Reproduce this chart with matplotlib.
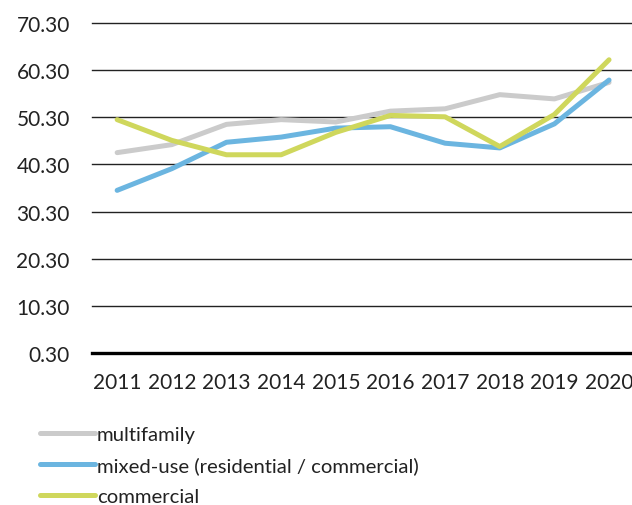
import matplotlib
matplotlib.use("Agg")
from matplotlib import pyplot as plt

years = [2011, 2012, 2013, 2014, 2015, 2016, 2017, 2018, 2019, 2020]
multifamily = [42.8, 44.5, 48.8, 49.8, 49.3, 51.6, 52.1, 55.1, 54.2, 57.7]
mixed_use = [34.8, 39.4, 45.0, 46.1, 48.0, 48.3, 44.8, 43.8, 48.9, 58.2]
commercial = [49.8, 45.4, 42.35, 42.35, 47.1, 50.7, 50.4, 44.1, 50.9, 62.5]
y_ticks = [0.30, 10.30, 20.30, 30.30, 40.30, 50.30, 60.30, 70.30]

plt.rcParams['font.family'] = ['Lato', 'DejaVu Sans']

fig = plt.figure(figsize=(6.32, 5.06), dpi=100)
ax = fig.add_axes([92 / 632, 1 - 354 / 506, 1 - 92 / 632, 330 / 506])

for yt in y_ticks[1:]:
    ax.axhline(yt, color='#222222', linewidth=1.0, zorder=1, clip_on=False)
ax.axhline(y_ticks[0], color='black', linewidth=2.4, zorder=1, clip_on=False)

ax.plot(years, multifamily, color='#cbcbcb', linewidth=3.6, solid_capstyle='round',
        label='multifamily', zorder=3)
ax.plot(years, mixed_use, color='#6bb5e0', linewidth=3.6, solid_capstyle='round',
        label='mixed-use (residential / commercial)', zorder=3)
ax.plot(years, commercial, color='#cfd75c', linewidth=3.6, solid_capstyle='round',
        label='commercial', zorder=4)

ax.set_xlim(2010.54, 2020.42)
ax.set_ylim(0.30, 70.30)
ax.set_yticks(y_ticks)
ax.set_yticklabels([f"{v:.2f}" for v in y_ticks])
ax.set_xticks(years)
ax.set_xticklabels([str(y) for y in years])
ax.tick_params(axis='both', length=0, labelsize=15, colors='#222222')
ax.tick_params(axis='y', pad=16)
ax.tick_params(axis='x', pad=14)
for s in ax.spines.values():
    s.set_visible(False)

leg = fig.legend(loc='upper left', bbox_to_anchor=(32 / 632, 1 - 419 / 506), frameon=False,
                 fontsize=14.6, handlelength=2.7, handletextpad=0.1, labelspacing=0.65,
                 borderaxespad=0)
for t in leg.get_texts():
    t.set_color('#222222')

fig.savefig('out.png', dpi=100)
